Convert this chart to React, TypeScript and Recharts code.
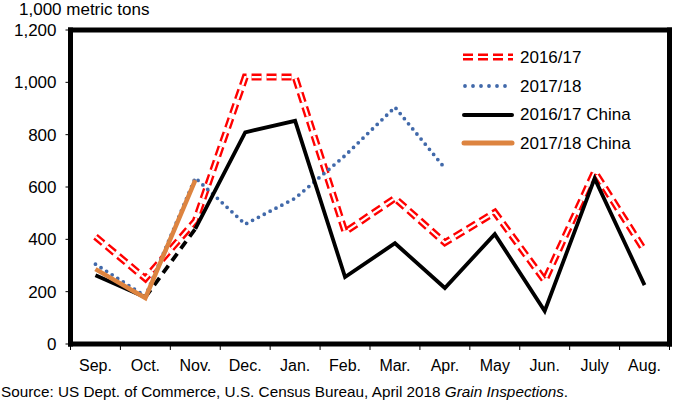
import { LineChart, Line, XAxis, YAxis, Legend } from "recharts"

const MONTHS = ["Sep.", "Oct.", "Nov.", "Dec.", "Jan.", "Feb.", "Mar.", "Apr.", "May", "Jun.", "July", "Aug."]
const TOTAL_1617 = [410, 250, 470, 1020, 1020, 428, 557, 387, 503, 242, 658, 357]
const TOTAL_1718 = [305, 183, 635, 458, 557, 720, 905, 672, null, null, null, null]
const CHINA_1617 = [263, 179, 440, 809, 853, 256, 385, 214, 420, 126, 633, 225]
const CHINA_1718 = [286, 176, 626, null, null, null, null, null, null, null, null, null]
const Y_TICKS = [0, 200, 400, 600, 800, 1000, 1200]

const W = 675
const H = 400
const MARGIN = { top: 29, right: 4.5, bottom: 0, left: 0 }
const Y_AXIS_W = 70.5
const X_AXIS_H = 56
const BAND = (W - MARGIN.right - 1 - Y_AXIS_W) / MONTHS.length
const FONT = "'Liberation Sans', Arial, sans-serif"

const RED = "#ff0000"
const BLUE = "#4169aa"
const ORANGE = "#dd8440"
const FRAME = { stroke: "#000", strokeWidth: 5, strokeLinecap: "square" as const }

// Oct -> Nov of the China line is dashed, the rest solid
const data = MONTHS.map((month, i) => ({
  month,
  total1617: TOTAL_1617[i],
  total1718: TOTAL_1718[i],
  chinaA: i <= 1 ? CHINA_1617[i] : null,
  chinaDash: i >= 1 && i <= 2 ? CHINA_1617[i] : null,
  chinaB: i >= 2 ? CHINA_1617[i] : null,
  china1718: CHINA_1718[i],
}))

const LEGEND_ITEMS = [
  { label: "2016/17", kind: "double" },
  { label: "2017/18", kind: "dots" },
  { label: "2016/17 China", kind: "black" },
  { label: "2017/18 China", kind: "orange" },
]

const MonthTick = (props: any) => {
  const { x, y, payload, index } = props
  const last = index === MONTHS.length - 1
  return (
    <g>
      <line x1={x - BAND / 2} x2={x - BAND / 2} y1={y} y2={y + 6} stroke="#000" strokeWidth={1} />
      {last && <line x1={x + BAND / 2} x2={x + BAND / 2} y1={y} y2={y + 6} stroke="#000" strokeWidth={1} />}
      <text x={x} y={y + 21} textAnchor="middle" dominantBaseline="central" fontSize={16} fill="#000" fontFamily={FONT}>
        {payload.value}
      </text>
    </g>
  )
}

const Sample = ({ kind }: { kind: string }) => {
  if (kind === "double")
    return (
      <g>
        <line x1={3} x2={53} y1={8} y2={8} stroke={RED} strokeWidth={7} strokeDasharray="10 5" />
        <line x1={3} x2={53} y1={8} y2={8} stroke="#fff" strokeWidth={2.2} strokeDasharray="10 5" />
      </g>
    )
  if (kind === "dots")
    return <line x1={5} x2={53} y1={8} y2={8} stroke={BLUE} strokeWidth={3.8} strokeLinecap="round" strokeDasharray="0 8" />
  if (kind === "black")
    return <line x1={4} x2={52} y1={8} y2={8} stroke="#000" strokeWidth={4} strokeLinecap="round" />
  return <line x1={4} x2={52} y1={8} y2={8} stroke={ORANGE} strokeWidth={5} strokeLinecap="round" />
}

const LegendBox = () => (
  <div style={{ fontFamily: FONT, fontSize: 17, color: "#000" }}>
    {LEGEND_ITEMS.map((item) => (
      <div key={item.label} style={{ display: "flex", alignItems: "center", height: 28.7 }}>
        <svg width={60} height={16} style={{ display: "block" }}>
          <Sample kind={item.kind} />
        </svg>
        <span style={{ lineHeight: "17px" }}>{item.label}</span>
      </div>
    ))}
  </div>
)

export default function App() {
  return (
    <div style={{ position: "absolute", left: 0, top: 0, width: W, height: H, background: "#fff", fontFamily: FONT }}>
      <div style={{ position: "absolute", left: 19, top: 1, fontSize: 17, lineHeight: "18px", color: "#000" }}>
        1,000 metric tons
      </div>
      <LineChart width={W} height={H} data={data} margin={MARGIN}>
        <XAxis
          dataKey="month"
          interval={0}
          height={X_AXIS_H}
          padding={{ left: BAND / 2, right: BAND / 2 }}
          tickSize={0}
          tickMargin={0}
          tick={<MonthTick />}
          axisLine={FRAME}
        />
        <XAxis
          xAxisId="top"
          dataKey="month"
          orientation="top"
          height={1}
          padding={{ left: BAND / 2, right: BAND / 2 }}
          tick={false}
          tickLine={false}
          axisLine={FRAME}
        />
        <YAxis
          width={Y_AXIS_W}
          domain={[0, 1200]}
          ticks={Y_TICKS}
          interval={0}
          tickSize={5}
          tickMargin={9}
          tickFormatter={(v: number) => v.toLocaleString("en-US")}
          tick={{ fontSize: 17, fill: "#000", fontFamily: FONT }}
          tickLine={{ stroke: "#000" }}
          axisLine={FRAME}
        />
        <YAxis
          yAxisId="right"
          orientation="right"
          width={1}
          domain={[0, 1200]}
          tick={false}
          tickLine={false}
          axisLine={FRAME}
        />
        <Legend
          content={<LegendBox />}
          layout="horizontal"
          verticalAlign="middle"
          align="center"
          wrapperStyle={{ left: 460, top: 43, width: 200, height: 116 }}
        />
        {/* invisible series so the top and right frame axes get drawn */}
        <Line xAxisId="top" yAxisId="right" dataKey="total1617" stroke="none" dot={false} activeDot={false} isAnimationActive={false} legendType="none" />
        <Line dataKey="total1617" stroke={RED} strokeWidth={7} strokeDasharray="10 5" dot={false} activeDot={false} isAnimationActive={false} legendType="none" />
        <Line dataKey="total1617" stroke="#fff" strokeWidth={2.2} strokeDasharray="10 5" dot={false} activeDot={false} isAnimationActive={false} legendType="none" />
        <Line dataKey="total1718" stroke={BLUE} strokeWidth={3.8} strokeLinecap="round" strokeDasharray="0 6.6" dot={false} activeDot={false} isAnimationActive={false} legendType="none" />
        <Line dataKey="chinaA" stroke="#000" strokeWidth={3.8} dot={false} activeDot={false} isAnimationActive={false} legendType="none" />
        <Line dataKey="chinaDash" stroke="#000" strokeWidth={3.8} strokeDasharray="9 6" dot={false} activeDot={false} isAnimationActive={false} legendType="none" />
        <Line dataKey="chinaB" stroke="#000" strokeWidth={3.8} strokeLinejoin="miter" dot={false} activeDot={false} isAnimationActive={false} legendType="none" />
        <Line dataKey="china1718" stroke={ORANGE} strokeWidth={4.5} dot={false} activeDot={false} isAnimationActive={false} legendType="none" />
      </LineChart>
      <div style={{ position: "absolute", left: 1, top: 383, fontSize: 15.3, lineHeight: "18px", color: "#000", whiteSpace: "nowrap" }}>
        Source: US Dept. of Commerce, U.S. Census Bureau, April 2018 <i>Grain Inspections</i>.
      </div>
    </div>
  )
}
